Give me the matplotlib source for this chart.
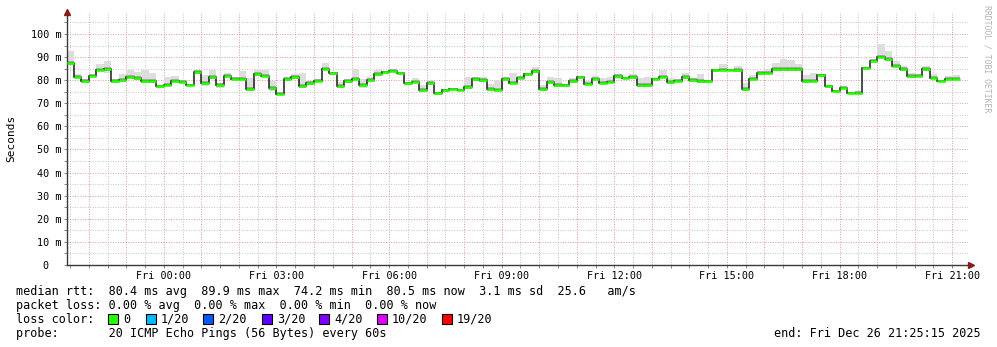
import numpy as np
import pandas as pd
import matplotlib
matplotlib.use('Agg')
import matplotlib.pyplot as plt
import matplotlib.dates as mdates
from matplotlib.patches import Rectangle

# ---------------- data ----------------
end_time = pd.Timestamp('2025-12-26 21:25:15')
start_time = end_time - pd.Timedelta(hours=24)
first_slot = pd.Timestamp('2025-12-25 21:36:00')   # 12-minute consolidation slots

median = [87.3, 81.5, 79.5, 81.8, 84.4, 84.7, 79.5, 80.0, 81.2, 80.8,
          79.5, 79.6, 77.3, 77.9, 79.8, 79.3, 77.9, 83.4, 78.9, 81.2,
          78.0, 81.8, 80.6, 80.6, 76.1, 82.6, 81.8, 76.6, 74.1, 80.3,
          81.3, 77.6, 78.7, 79.8, 85.0, 82.9, 77.4, 79.5, 80.6, 78.0,
          79.9, 82.6, 83.4, 84.1, 82.9, 78.6, 79.3, 75.7, 78.6, 74.3,
          75.6, 76.3, 75.9, 76.9, 80.3, 80.0, 76.0, 75.7, 80.3, 78.9,
          81.1, 82.6, 83.9, 76.0, 79.0, 77.7, 77.7, 79.5, 81.2, 78.3,
          80.6, 78.9, 79.3, 81.8, 80.9, 81.3, 77.7, 77.7, 80.6, 81.5,
          79.0, 79.8, 81.2, 79.9, 79.5, 79.5, 84.2, 84.5, 84.5, 84.5,
          76.0, 80.6, 82.9, 83.1, 84.7, 84.7, 84.7, 84.7, 79.6, 79.8,
          82.2, 77.3, 75.4, 76.6, 74.4, 74.4, 85.4, 88.4, 89.9, 89.0,
          86.1, 84.7, 81.8, 81.8, 84.7, 80.9, 79.6, 80.6, 80.6]

upper = [92.6, 82.6, 80.3, 82.5, 87.0, 88.3, 80.5, 82.6, 84.4, 83.4,
         84.4, 83.2, 78.0, 81.2, 81.8, 80.0, 78.5, 84.2, 82.4, 84.4,
         78.8, 83.2, 81.2, 84.1, 81.0, 84.4, 84.2, 79.5, 74.8, 81.2,
         82.7, 83.2, 79.5, 80.3, 87.6, 83.3, 79.0, 80.3, 85.0, 80.3,
         81.2, 84.4, 83.8, 85.0, 83.3, 79.2, 80.8, 78.0, 80.0, 74.8,
         76.3, 76.8, 76.3, 81.2, 81.2, 81.2, 78.3, 80.0, 81.2, 83.2,
         81.6, 83.0, 85.5, 78.0, 81.2, 80.8, 78.2, 80.8, 81.6, 79.8,
         82.0, 80.8, 81.2, 82.6, 81.4, 82.6, 80.8, 81.2, 81.0, 84.4,
         80.8, 80.3, 82.9, 80.8, 82.6, 80.0, 84.7, 87.0, 85.0, 86.1,
         78.6, 82.4, 83.8, 85.0, 87.5, 89.1, 88.7, 87.0, 82.4, 83.2,
         82.8, 77.8, 75.9, 77.5, 74.9, 75.5, 85.9, 89.0, 95.6, 92.6,
         88.3, 86.1, 82.9, 82.6, 86.1, 82.6, 80.0, 81.8, 82.4]

lower = [86.5, 80.9, 78.9, 81.2, 83.8, 83.2, 78.9, 79.4, 80.6, 80.2,
         78.9, 78.9, 76.7, 77.3, 79.2, 78.7, 77.3, 82.8, 77.6, 80.6,
         76.5, 81.2, 80.0, 80.0, 75.5, 82.0, 81.2, 75.5, 73.6, 79.7,
         80.7, 76.8, 78.1, 79.2, 84.4, 82.3, 76.8, 78.9, 80.0, 76.8,
         79.3, 82.0, 82.8, 83.5, 82.3, 78.0, 78.7, 75.0, 78.0, 73.7,
         75.0, 75.7, 75.3, 76.3, 79.7, 79.4, 75.4, 75.1, 79.7, 78.3,
         80.5, 82.0, 83.3, 75.5, 78.4, 77.1, 77.1, 78.9, 80.6, 77.7,
         80.0, 78.3, 78.7, 80.5, 80.3, 80.7, 76.9, 77.1, 80.0, 80.9,
         78.4, 79.2, 80.6, 79.3, 78.9, 78.9, 83.6, 83.9, 83.9, 83.6,
         75.4, 80.0, 82.3, 82.5, 84.1, 84.1, 84.1, 84.1, 78.7, 79.2,
         81.2, 76.7, 74.8, 76.0, 73.8, 73.8, 84.8, 87.8, 89.4, 88.4,
         85.5, 84.1, 81.0, 81.2, 84.1, 80.3, 79.0, 80.0, 80.0]

y_ticks = [0, 10, 20, 30, 40, 50, 60, 70, 80, 90, 100]
y_labels = ['0\u00a0\u00a0', '10 m', '20 m', '30 m', '40 m', '50 m',
            '60 m', '70 m', '80 m', '90 m', '100 m']

loss_labels = ['0', '1/20', '2/20', '3/20', '4/20', '10/20', '19/20']
loss_colors = ['#26ff00', '#00b8ff', '#0059ff', '#5e00ff', '#7e00ff', '#dd00ff', '#ff0000']

stats_line = 'median rtt:  80.4 ms avg  89.9 ms max  74.2 ms min  80.5 ms now  3.1 ms sd  25.6   am/s'
loss_line = 'packet loss: 0.00 % avg  0.00 % max  0.00 % min  0.00 % now'
probe_line = 'probe:       20 ICMP Echo Pings (56 Bytes) every 60s'
end_line = 'end: Fri Dec 26 21:25:15 2025'

# ---------------- figure ----------------
W, H = 997, 347
fig = plt.figure(figsize=(W / 100, H / 100), dpi=100)
fig.patch.set_facecolor('white')
ax = fig.add_axes([67 / W, (H - 265) / H, 901 / W, 253 / H])

mono = 'DejaVu Sans Mono'

n = len(median)
edges_dt = [start_time] + list(pd.date_range(first_slot, periods=n, freq='12min'))
edges = mdates.date2num(edges_dt)
med = np.array(median)
up = np.array(upper)
lo = np.array(lower)
dark_lo = np.maximum(lo, med - 0.9)
dark_hi = np.minimum(up, med + 0.9)

# grid
red = '#dc9a9a'
gray = '#c4c4c4'
dots = (0, (1, 1.6))
for t in pd.date_range('2025-12-25 21:30', '2025-12-26 21:30', freq='30min'):
    x = mdates.date2num(t)
    ax.axvline(x, color=red if t.minute == 0 else gray, ls=dots, lw=0.7, zorder=0.5)
for v in range(5, 110, 5):
    ax.axhline(v, color=red if v % 10 == 0 else gray, ls=dots, lw=0.7, zorder=0.5)

# smoke
ax.stairs(up, edges, baseline=lo, fill=True, color='#dddddd', lw=0, zorder=1)
ax.stairs(dark_hi, edges, baseline=dark_lo, fill=True, color='#a8a8a8', lw=0, zorder=1.2)
# median line
ax.stairs(med, edges, baseline=None, color='#1a1a1a', lw=1.1, zorder=2)
ax.hlines(med, edges[:-1], edges[1:], color='#26ff00', lw=1.9, zorder=3)

ax.set_xlim(mdates.date2num(start_time), mdates.date2num(end_time))
ax.set_ylim(0, 109.5)

ax.set_yticks(y_ticks)
ax.set_yticklabels(y_labels, family=mono, fontsize=7.3)
ax.set_yticks(list(range(5, 110, 10)), minor=True)
ax.xaxis.set_major_locator(mdates.HourLocator(byhour=range(0, 24, 3)))
ax.xaxis.set_major_formatter(mdates.DateFormatter('%a %H:%M'))
ax.xaxis.set_minor_locator(mdates.MinuteLocator(byminute=[0, 30]))
for lab in ax.get_xticklabels():
    lab.set_family(mono)
    lab.set_fontsize(7.3)
ax.tick_params(which='both', direction='out', length=2.2, width=0.7, color='#888888',
               labelcolor='black', pad=2)

for s in ['top', 'right']:
    ax.spines[s].set_visible(False)
for s in ['left', 'bottom']:
    ax.spines[s].set_color('#3a3a3a')
    ax.spines[s].set_linewidth(1.0)

# arrows
ax.plot([0], [1.0], marker='^', ms=4.5, color='#8b1a1a', transform=ax.transAxes,
        clip_on=False, zorder=5)
ax.plot([1.003], [0], marker='>', ms=4.5, color='#8b1a1a', transform=ax.transAxes,
        clip_on=False, zorder=5)

def ftext(px, py, s, **kw):
    kw.setdefault('family', mono)
    kw.setdefault('fontsize', 8.5)
    kw.setdefault('va', 'center')
    return fig.text(px / W, 1 - py / H, s, **kw)

ftext(11, 138, 'Seconds', rotation=90, ha='center', fontsize=8.0)
ftext(987, 59, 'RRDTOOL / TOBI OETIKER', rotation=270, ha='center', fontsize=5.9,
      color='#b4b4b4')

ftext(16, 291.5, stats_line)
ftext(16, 305.3, loss_line)
ftext(16, 319.3, 'loss color:')
ftext(16, 333.3, probe_line)
ftext(981, 333.3, end_line, ha='right')

box_x = [108, 146, 203, 262, 319, 377, 442]
for bx, lab, col in zip(box_x, loss_labels, loss_colors):
    fig.patches.append(Rectangle((bx / W, 1 - 324 / H), 10 / W, 10 / H,
                                 transform=fig.transFigure, facecolor=col,
                                 edgecolor='black', lw=0.8))
    ftext(bx + 15, 319.3, lab)

fig.savefig('out.png', dpi=100, facecolor='white')
